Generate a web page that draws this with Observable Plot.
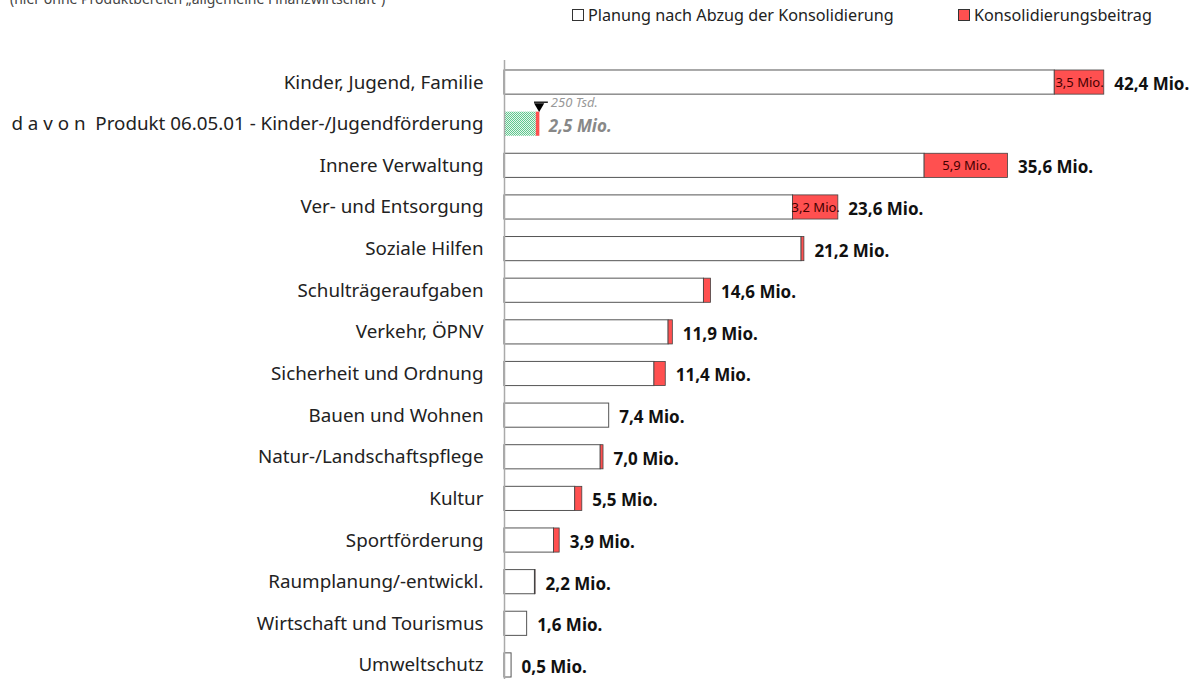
<!DOCTYPE html>
<html><head><meta charset="utf-8">
<script src="https://cdn.jsdelivr.net/npm/d3@7"></script>
<script src="https://cdn.jsdelivr.net/npm/@observablehq/plot@0.6"></script>
<style>
body{margin:0;background:#fff;font-family:"Noto Sans",sans-serif;}
#wrap{position:relative;width:1197px;height:679px;overflow:hidden;}
#note{position:absolute;left:10px;top:-11px;font-size:14px;color:#444;white-space:nowrap;}
.leg{position:absolute;top:4px;font-size:16.2px;color:#222;white-space:nowrap;display:flex;align-items:center;}
.sw{display:inline-block;width:10px;height:10px;border:1px solid #333;margin-right:4px;}
#chart{position:absolute;left:0;top:0;}
</style></head>
<body>
<div id="wrap">
<div id="note">(hier ohne Produktbereich „allgemeine Finanzwirtschaft“)</div>
<div class="leg" style="left:572px"><span class="sw" style="background:#fff"></span>Planung nach Abzug der Konsolidierung</div>
<div class="leg" style="left:958px"><span class="sw" style="background:#ff5050"></span>Konsolidierungsbeitrag</div>
<div id="chart"></div>
</div>
<script>
const categories = ["Kinder, Jugend, Familie","d a v o n\u00a0 Produkt 06.05.01 - Kinder-/Jugendförderung","Innere Verwaltung","Ver- und Entsorgung","Soziale Hilfen","Schulträgeraufgaben","Verkehr, ÖPNV","Sicherheit und Ordnung","Bauen und Wohnen","Natur-/Landschaftspflege","Kultur","Sportförderung","Raumplanung/-entwickl.","Wirtschaft und Tourismus","Umweltschutz"];
const totals = [42.4, 2.5, 35.6, 23.6, 21.2, 14.6, 11.9, 11.4, 7.4, 7.0, 5.5, 3.9, 2.2, 1.6, 0.5];
const konsolidierung = [3.5, 0.25, 5.9, 3.2, 0.2, 0.5, 0.3, 0.8, 0, 0.2, 0.5, 0.4, 0.05, 0, 0];
const insideLabels = ["3,5 Mio.", "", "5,9 Mio.", "3,2 Mio.", "", "", "", "", "", "", "", "", "", "", ""];
const davonNote = "250 Tsd.";

const rows = categories.map((c, i) => ({
  cat: c, total: totals[i], kons: konsolidierung[i], net: +(totals[i] - konsolidierung[i]).toFixed(3),
  label: totals[i].toFixed(1).replace(".", ",") + " Mio.", inside: insideLabels[i], davon: i === 1
}));
const main = rows.filter(d => !d.davon);
const sub = rows.filter(d => d.davon);

const plot = Plot.plot({
  width: 1197, height: 679,
  marginLeft: 504, marginRight: 14, marginTop: 60, marginBottom: -8,
  style: {fontFamily: "Noto Sans, sans-serif", background: "transparent", overflow: "visible"},
  x: {domain: [0, 48], axis: null},
  y: {domain: categories, paddingInner: 0.42, paddingOuter: 0.24, round: false, label: null},
  marks: [
    Plot.axisY({tickSize: 0, tickPadding: 21, fontSize: 18.8, fill: "#222", label: null}),
    Plot.barX(main, {y: "cat", x1: 0, x2: "net", fill: "#fff", stroke: "#555", strokeWidth: 1}),
    Plot.barX(main.filter(d => d.kons > 0), {y: "cat", x1: "net", x2: "total", fill: "#ff5050", stroke: "#444", strokeWidth: 0.8}),
    Plot.barX(sub, {y: "cat", x1: 0, x2: "net", fill: "url(#greendots)"}),
    Plot.barX(sub, {y: "cat", x1: "net", x2: "total", fill: "#ff5050"}),
    Plot.ruleX([0], {stroke: "#aaa", strokeWidth: 1.5}),
    Plot.text(main, {y: "cat", x: "total", text: "label", dx: 10, dy: 2, textAnchor: "start", fontSize: 17, fontWeight: "bold", fill: "#111"}),
    Plot.text(sub, {y: "cat", x: "total", text: "label", dx: 9, dy: 2, textAnchor: "start", fontSize: 17, fontWeight: "bold", fontStyle: "italic", fill: "#888"}),
    Plot.text(main.filter(d => d.inside), {y: "cat", x: d => (d.net + d.total) / 2, text: "inside", fontSize: 13, fill: "#400"}),
    Plot.ruleY(sub, {y: "cat", x1: d => d.net - 0.13, x2: d => d.net + 0.85, dy: -22, stroke: "#000", strokeWidth: 1.3}),
    Plot.dot(sub, {y: "cat", x: d => d.net + 0.2, symbol: "triangle", rotate: 180, r: 3.8, fill: "#000", dy: -18}),
    Plot.text(sub, {y: "cat", x: "total", text: () => davonNote, dx: 11, dy: -21, textAnchor: "start", fontSize: 13, fontStyle: "italic", fill: "#999"})
  ]
});
const svg = d3.select(plot);
const defs = svg.insert("defs", ":first-child");
const pat = defs.append("pattern").attr("id", "greendots").attr("patternUnits", "userSpaceOnUse").attr("width", 2).attr("height", 2);
pat.append("rect").attr("width", 2).attr("height", 2).attr("fill", "#e6f6ec");
pat.append("rect").attr("width", 1).attr("height", 1).attr("fill", "#5fc88f");
pat.append("rect").attr("x", 1).attr("y", 1).attr("width", 1).attr("height", 1).attr("fill", "#5fc88f");
document.getElementById("chart").appendChild(plot);
</script>
</body></html>
